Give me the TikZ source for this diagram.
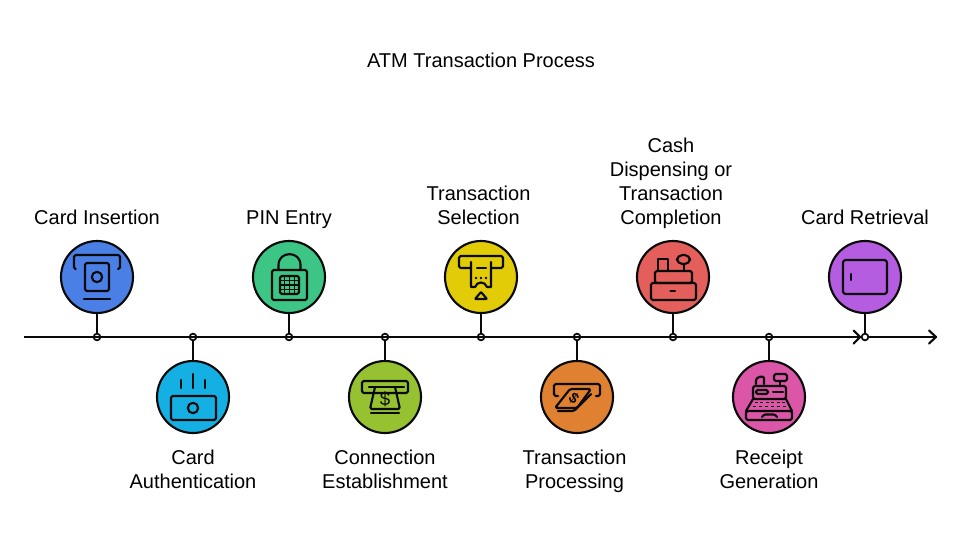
\documentclass[tikz,border=0pt]{standalone}
\usepackage{fontspec}
\setmainfont{Liberation Sans}
\usetikzlibrary{arrows.meta}
\definecolor{cA}{HTML}{4A80E6}
\definecolor{cB}{HTML}{14B0E4}
\definecolor{cC}{HTML}{3DC586}
\definecolor{cD}{HTML}{96C231}
\definecolor{cE}{HTML}{E2CC08}
\definecolor{cF}{HTML}{E08131}
\definecolor{cG}{HTML}{E45F5B}
\definecolor{cH}{HTML}{DC56A8}
\definecolor{cI}{HTML}{B45DE0}
\definecolor{ink}{HTML}{0A0A0A}
\newcommand{\Zs}{\rule[-3.75pt]{0pt}{18pt}}
\tikzset{
  x=0.75pt,y=-0.75pt,
  disc/.style={circle,draw=ink,line width=1.6pt,minimum size=54pt,inner sep=0pt},
  tick/.style={circle,draw=ink,line width=1.3pt,minimum size=5pt,inner sep=0pt},
  link/.style={draw=ink,line width=1.6pt},
  axisline/.style={draw=ink,line width=1.6pt},
  chevron/.style={draw=ink,line width=1.6pt,line cap=round,line join=round},
  ico/.style={draw=ink,line width=1.6pt,line cap=round,line join=round,rounded corners=1.2pt},
  lbl/.style={font=\fontsize{15}{18}\selectfont,align=center,text=black,inner sep=0pt},
}
\begin{document}
\begin{tikzpicture}
\useasboundingbox (0,0) rectangle (962,542);
\fill[white] (0,0) rectangle (962,542);
\node[lbl] (title) at (481,61) {\Zs ATM Transaction Process};

% axis
\coordinate (axisstart) at (24,337);
\coordinate (axismid) at (860,337);
\coordinate (axisend) at (936,337);
\draw[axisline] (axisstart) -- (axismid);
\draw[axisline] (axismid) -- (axisend);
\draw[chevron] (853.5,330.5) -- (axismid) -- (853.5,343.5);
\draw[chevron] (929,330.5) -- (axisend) -- (929,343.5);

% ticks
\node[tick] (d1) at (97,337) {};
\node[tick] (d2) at (193,337) {};
\node[tick] (d3) at (289,337) {};
\node[tick] (d4) at (385,337) {};
\node[tick] (d5) at (481,337) {};
\node[tick] (d6) at (577,337) {};
\node[tick] (d7) at (673,337) {};
\node[tick] (d8) at (769,337) {};
\node[tick,fill=white] (d9) at (865,337) {};

% discs
\node[disc,fill=cA] (c1) at (97,277) {};
\node[disc,fill=cB] (c2) at (193,397) {};
\node[disc,fill=cC] (c3) at (289,277) {};
\node[disc,fill=cD] (c4) at (385,397) {};
\node[disc,fill=cE] (c5) at (481,277) {};
\node[disc,fill=cF] (c6) at (577,397) {};
\node[disc,fill=cG] (c7) at (673,277) {};
\node[disc,fill=cH] (c8) at (769,397) {};
\node[disc,fill=cI] (c9) at (865,277) {};

% connectors
\foreach \i in {1,...,9} { \draw[link] (c\i) -- (d\i); }

% labels
\node[lbl] (l1) at (97,217) {\Zs Card Insertion};
\node[lbl] (l2) at (193,469) {\Zs Card\\\Zs Authentication};
\node[lbl] (l3) at (289,217) {\Zs PIN Entry};
\node[lbl] (l4) at (385,469) {\Zs Connection\\\Zs Establishment};
\node[lbl] (l5) at (478.5,205) {\Zs Transaction\\\Zs Selection};
\node[lbl] (l6) at (574.5,469) {\Zs Transaction\\\Zs Processing};
\node[lbl] (l7) at (671,181) {\Zs Cash\\\Zs Dispensing or\\\Zs Transaction\\\Zs Completion};
\node[lbl] (l8) at (769,469) {\Zs Receipt\\\Zs Generation};
\node[lbl] (l9) at (865,217) {\Zs Card Retrieval};

% icon 1
\begin{scope}[shift={(97,277)}]
\draw[ico] (-22,-8) -- (-23,-8) -- (-23,-22) -- (23,-22) -- (23,-8) -- (21,-8);
\draw[ico] (-12,-14) rectangle (12,14);
\draw[ico] (0,0) circle (5.2);
\draw[ico] (-13,22) -- (13,22);
\end{scope}

% icon 2
\begin{scope}[shift={(193,397)}]
\draw[ico] (-12,-17) -- (-12,-9);
\draw[ico] (0,-23) -- (0,-9);
\draw[ico] (12,-17) -- (12,-9);
\draw[ico] (-22,-1) rectangle (23,23);
\draw[ico] (0,11) circle (5.2);
\end{scope}

% icon 3
\begin{scope}[shift={(289,277)}]
\draw[ico] (-17,-7) rectangle (18,23);
\draw[ico,rounded corners=0pt] (-10.5,-7) -- (-10.5,-12) .. controls (-10.5,-26.5) and (11.5,-26.5) .. (11.5,-12) -- (11.5,-7);
\draw[ico] (-9,-1) rectangle (10,17);
\foreach \gx in {-4.25,0.5,5.25} { \draw[ink,line width=1pt] (\gx,-1) -- (\gx,17); }
\foreach \gy in {3.5,8,12.5} { \draw[ink,line width=1pt] (-9,\gy) -- (10,\gy); }
\end{scope}

% icon 4
\begin{scope}[shift={(385,397)}]
\draw[ico] (-23,-16) rectangle (23,-4);
\draw[ico] (-16,-10) -- (19,-10);
\draw[ico] (-10,-10) -- (-15,12) -- (15,12) -- (10,-10);
\draw[ico] (-14,16) -- (14,16);
\node[inner sep=0pt,font=\fontsize{14}{14}\selectfont,text=ink] (dollar4) at (0,2) {\$};
\end{scope}

% icon 5
\begin{scope}[shift={(481,277)}]
\draw[ico] (-10,-9) -- (-22,-9) -- (-22,-21) -- (22,-21) -- (22,-9) -- (10,-9);
\draw[ico,rounded corners=0pt] (-10,-15) -- (-10,10) -- (-6,10) .. controls (-4,4) and (4,4) .. (6,10) -- (10,10) -- (10,-15);
\draw[ico] (-4,-9) -- (5,-9);
\fill[ink] (-5,1) circle (1.3) (0,1) circle (1.3) (5,1) circle (1.3);
\draw[ico,rounded corners=0.5pt] (-6,22) -- (6,22) -- (0,15) -- cycle;
\end{scope}

% icon 6
\begin{scope}[shift={(577,397)}]
\draw[ico] (-19,-1) -- (-23,-1) -- (-23,-13) -- (23,-13) -- (23,-1) -- (19,-1);
\draw[ico,fill=cF] (-7,-8) -- (14,-8) -- (0,11) -- (-22,11) -- cycle;
\draw[ico] (-19,14) -- (-3,14) -- (14,-3);
\node[inner sep=0pt,rotate=-40,font=\fontsize{11}{11}\selectfont\bfseries,text=ink] (dollar6) at (-3,1) {\$};
\end{scope}

% icon 7
\begin{scope}[shift={(673,277)}]
\draw[ico] (-22,6) rectangle (23,23);
\draw[ico] (-18,-6) rectangle (19,6);
\draw[ico,rounded corners=0pt] (-15,-6) -- (-15,-18) -- (-5,-18) -- (-5,-6);
\draw[ico,rounded corners=4pt] (4,-22) rectangle (17,-13);
\draw[ico] (11,-13) -- (11,-6);
\draw[ico] (-2.5,14) -- (2,14);
\end{scope}

% icon 8
\begin{scope}[shift={(769,397)}]
\draw[ico] (5,-23) rectangle (18,-16);
\draw[ico] (11,-16) -- (11,-11);
\draw[ico,rounded corners=0pt] (-13,-13) -- (-13,-17) .. controls (-13,-20) and (-5,-22) .. (-5,-19) -- (-5,-13);
\draw[ico] (-16,-11) rectangle (17,2);
\draw[ico] (-13,-7) rectangle (-1,-3);
\draw[ico] (4,-5) -- (14,-5);
\draw[ico] (-16,2) -- (-23,14);
\draw[ico] (17,2) -- (23,14);
\draw[ico] (-23,14) rectangle (23,23);
\draw[ico,rounded corners=2pt] (-7,20) -- (-6,17.5) -- (7,17.5) -- (8,20);
\foreach \kx in {-13,-7.5,-2,3.5,9,14} {
  \draw[ink,line width=1.3pt] (\kx-1.5,5.5) -- (\kx+1.5,5.5);
}
\foreach \kx in {-15,-9,-3,3,9,15} {
  \draw[ink,line width=1.3pt] (\kx-1.5,9.5) -- (\kx+1.5,9.5);
}
\end{scope}

% icon 9
\begin{scope}[shift={(865,277)}]
\draw[ico,rounded corners=2pt] (-22,-17) rectangle (22,17);
\draw[ico] (-14,-3) -- (-14,3);
\end{scope}
\end{tikzpicture}
\end{document}
